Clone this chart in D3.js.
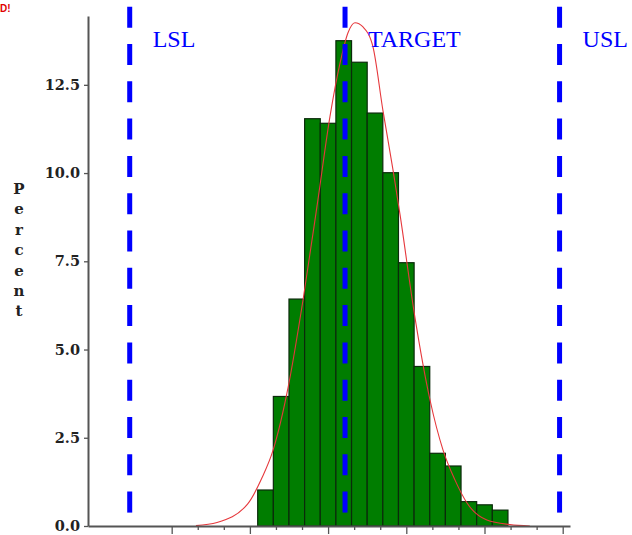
<!DOCTYPE html>
<html>
<head>
<meta charset="utf-8">
<script src="https://cdn.jsdelivr.net/npm/d3@7/dist/d3.min.js"></script>
<style>
  html, body { margin: 0; padding: 0; background: #fff; }
  svg { display: block; }
</style>
</head>
<body>
<svg id="chart" width="632" height="535"></svg>
<script>
// Histogram of measurements (percent per bin)
const binStart = 3.3;
const binWidth = 0.6;
const binPercents = [1.02, 3.67, 6.43, 11.54, 11.41, 13.75, 13.14, 11.70,
                     10.01, 7.46, 4.52, 2.06, 1.70, 0.69, 0.60, 0.45];

// Fitted density curve, sampled points (x, percent)
const curveX = [0.93, 1.74, 2.91, 3.46, 3.89, 4.47, 5.04, 5.61, 6.07, 6.46, 6.76,
                7.03, 7.34, 7.72, 8.10, 8.49, 8.76, 9.33, 9.91, 10.41, 10.87,
                11.33, 12.09, 12.98, 13.74];
const curveY = [0.01, 0.10, 0.62, 1.36, 2.15, 3.94, 6.41, 9.24, 11.59, 13.12, 13.97,
                14.26, 14.14, 13.58, 11.79, 10.09, 8.82, 5.92, 3.57, 2.15, 1.30,
                0.65, 0.17, 0.04, 0.00];

// Specification limits
const specNames = ["LSL", "TARGET", "USL"];
const specValues = [-1.61, 6.65, 14.88];

// Axis ticks
const yTickValues = [0, 2.5, 5.0, 7.5, 10.0, 12.5];
const xMajorTicks = [0, 3, 6, 9, 12, 15];
const xMinorTicks = [1, 2, 4, 5, 7, 8, 10, 11, 13, 14];
const yLabel = "Percent";

const svg = d3.select("#chart");

const x = d3.scaleLinear().domain([-3.21, 15.28]).range([88, 570]);
const y = d3.scaleLinear().domain([0, 14.45]).range([526, 16]);

// Bars
const bins = binPercents.map((v, i) => ({
  x0: binStart + i * binWidth,
  x1: binStart + (i + 1) * binWidth,
  v
}));

svg.append("g")
  .selectAll("rect")
  .data(bins)
  .join("rect")
  .attr("x", d => x(d.x0))
  .attr("y", d => y(d.v))
  .attr("width", d => x(d.x1) - x(d.x0))
  .attr("height", d => y(0) - y(d.v))
  .attr("fill", "#007d00")
  .attr("stroke", "#0b2a0b")
  .attr("stroke-width", 1.2);

// Density curve
const pts = curveX.map((cx, i) => [cx, curveY[i]]);
svg.append("path")
  .datum(pts)
  .attr("fill", "none")
  .attr("stroke", "#e6383c")
  .attr("stroke-width", 1.1)
  .attr("d", d3.line()
    .x(d => x(d[0]))
    .y(d => y(d[1]))
    .curve(d3.curveMonotoneX));

// Axes
const yAxis = svg.append("g")
  .attr("transform", `translate(${x.range()[0]},0)`)
  .call(d3.axisLeft(y)
    .tickValues(yTickValues)
    .tickFormat(d3.format(".1f"))
    .tickSize(4)
    .tickPadding(4)
    .tickSizeOuter(0));

const xAxis = svg.append("g")
  .attr("transform", `translate(0,${y(0)})`)
  .call(d3.axisBottom(x)
    .tickValues(xMajorTicks)
    .tickFormat("")
    .tickSize(8)
    .tickSizeOuter(0));

const xMinor = svg.append("g")
  .attr("transform", `translate(0,${y(0)})`)
  .call(d3.axisBottom(x)
    .tickValues(xMinorTicks)
    .tickFormat("")
    .tickSize(4)
    .tickSizeOuter(0));
xMinor.select(".domain").remove();

[yAxis, xAxis, xMinor].forEach(g => {
  g.select(".domain").attr("stroke", "#555").attr("stroke-width", 2);
  g.selectAll(".tick line").attr("stroke", "#555").attr("stroke-width", 1.3);
});
yAxis.selectAll(".tick text")
  .attr("font-family", "'DejaVu Serif', serif")
  .attr("font-weight", "bold")
  .attr("font-size", 14.5)
  .attr("fill", "#222");

// Stacked y-axis title
svg.append("g")
  .selectAll("text")
  .data(yLabel.split(""))
  .join("text")
  .attr("x", 19)
  .attr("y", (d, i) => 194 + i * 20.4)
  .attr("text-anchor", "middle")
  .attr("font-family", "'DejaVu Serif', serif")
  .attr("font-weight", "bold")
  .attr("font-size", 15)
  .attr("fill", "#222")
  .text(d => d);

// Specification lines and labels
const lineTop = y.range()[1] - 9.3;
svg.append("g")
  .selectAll("line")
  .data(specValues)
  .join("line")
  .attr("x1", d => x(d))
  .attr("x2", d => x(d))
  .attr("y1", lineTop)
  .attr("y2", y(0))
  .attr("stroke", "#0000ff")
  .attr("stroke-width", 5)
  .attr("stroke-dasharray", "21 16.3");

svg.append("g")
  .selectAll("text")
  .data(specNames)
  .join("text")
  .attr("x", (d, i) => x(specValues[i]) + 23)
  .attr("y", 47)
  .attr("font-family", "'Liberation Serif', 'Times New Roman', serif")
  .attr("font-size", 24)
  .attr("fill", "#0000ff")
  .text(d => d);

// Corner note
svg.append("text")
  .attr("x", 0)
  .attr("y", 12)
  .attr("font-family", "'Liberation Sans', Arial, sans-serif")
  .attr("font-weight", "bold")
  .attr("font-size", 10)
  .attr("fill", "#e00000")
  .text("D!");
</script>
</body>
</html>
